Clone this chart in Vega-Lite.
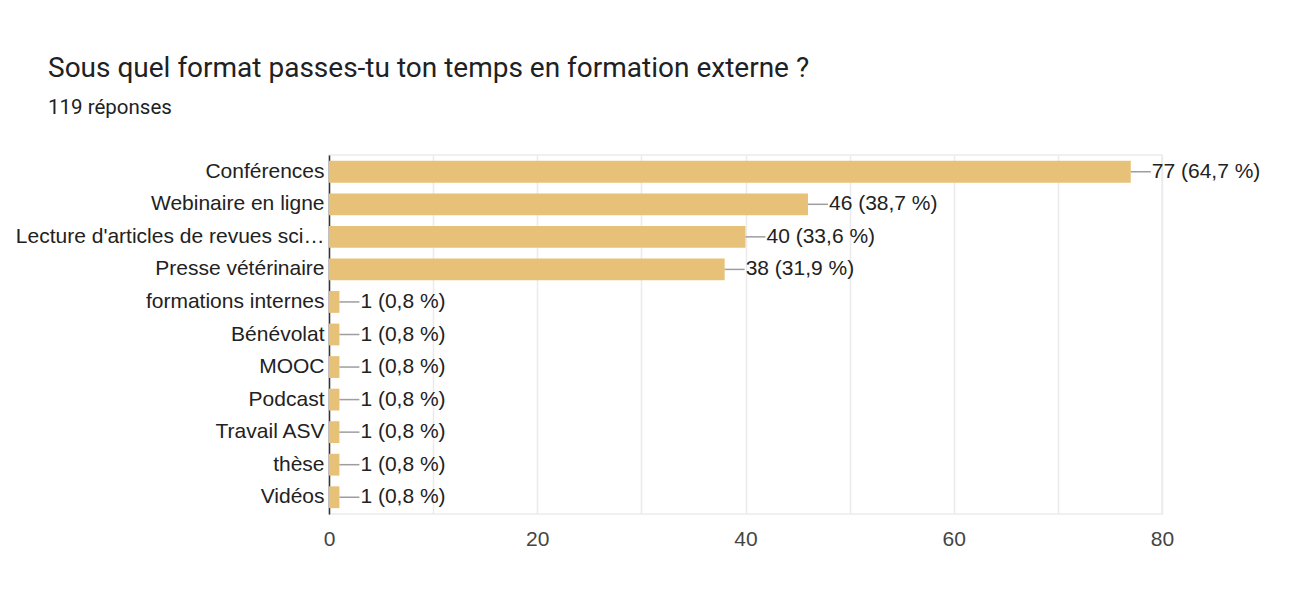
{
  "$schema": "https://vega.github.io/schema/vega-lite/v6.json",
  "width": 833,
  "height": 359,
  "autosize": {"type": "none"},
  "padding": {"left": 329, "top": 155, "right": 128, "bottom": 100},
  "background": "white",
  "config": {"view": {"stroke": "#ebebeb", "strokeWidth": 1.5}},
  "title": {
    "text": "Sous quel format passes-tu ton temps en formation externe ?",
    "subtitle": "119 réponses",
    "anchor": "start",
    "frame": "group",
    "dx": -281,
    "offset": 37,
    "font": "Roboto",
    "fontSize": 28,
    "fontWeight": "normal",
    "color": "#202124",
    "subtitleFont": "Roboto",
    "subtitleFontSize": 20.5,
    "subtitleColor": "#202124",
    "subtitlePadding": 15
  },
  "data": {
    "values": [
      {"format": "Conférences", "count": 77, "label": "77 (64,7 %)"},
      {"format": "Webinaire en ligne", "count": 46, "label": "46 (38,7 %)"},
      {"format": "Lecture d'articles de revues sci…", "count": 40, "label": "40 (33,6 %)"},
      {"format": "Presse vétérinaire", "count": 38, "label": "38 (31,9 %)"},
      {"format": "formations internes", "count": 1, "label": "1 (0,8 %)"},
      {"format": "Bénévolat", "count": 1, "label": "1 (0,8 %)"},
      {"format": "MOOC", "count": 1, "label": "1 (0,8 %)"},
      {"format": "Podcast", "count": 1, "label": "1 (0,8 %)"},
      {"format": "Travail ASV", "count": 1, "label": "1 (0,8 %)"},
      {"format": "thèse", "count": 1, "label": "1 (0,8 %)"},
      {"format": "Vidéos", "count": 1, "label": "1 (0,8 %)"}
    ]
  },
  "encoding": {
    "y": {
      "field": "format",
      "type": "nominal",
      "sort": null,
      "title": null,
      "scale": {"paddingInner": 0.33, "paddingOuter": 0.18},
      "axis": {
        "domain": true,
        "domainColor": "#333333",
        "domainWidth": 1.5,
        "ticks": false,
        "grid": false,
        "labelPadding": 5,
        "labelFont": "Liberation Sans",
        "labelFontSize": 21,
        "labelColor": "#222222",
        "labelLimit": 400
      }
    }
  },
  "layer": [
    {
      "mark": {"type": "bar", "color": "#e8c178"},
      "encoding": {
        "x": {
          "field": "count",
          "type": "quantitative",
          "title": null,
          "scale": {"domain": [0, 80], "nice": false},
          "axis": {
            "values": [0, 10, 20, 30, 40, 50, 60, 70, 80],
            "labelExpr": "datum.value % 20 === 0 ? datum.label : ''",
            "domain": false,
            "ticks": false,
            "grid": true,
            "gridColor": "#ebebeb",
            "gridWidth": 1.5,
            "labelPadding": 14,
            "labelFont": "Liberation Sans",
            "labelFontSize": 21,
            "labelColor": "#444444",
            "labelFlush": false
          }
        }
      }
    },
    {
      "mark": {"type": "rule", "color": "#9e9e9e", "strokeWidth": 1.5, "x2Offset": 20},
      "encoding": {
        "x": {"field": "count", "type": "quantitative"},
        "x2": {"field": "count"}
      }
    },
    {
      "mark": {"type": "text", "align": "left", "baseline": "middle", "dx": 21, "font": "Liberation Sans", "fontSize": 21, "color": "#222222"},
      "encoding": {
        "x": {"field": "count", "type": "quantitative"},
        "text": {"field": "label"}
      }
    }
  ]
}
